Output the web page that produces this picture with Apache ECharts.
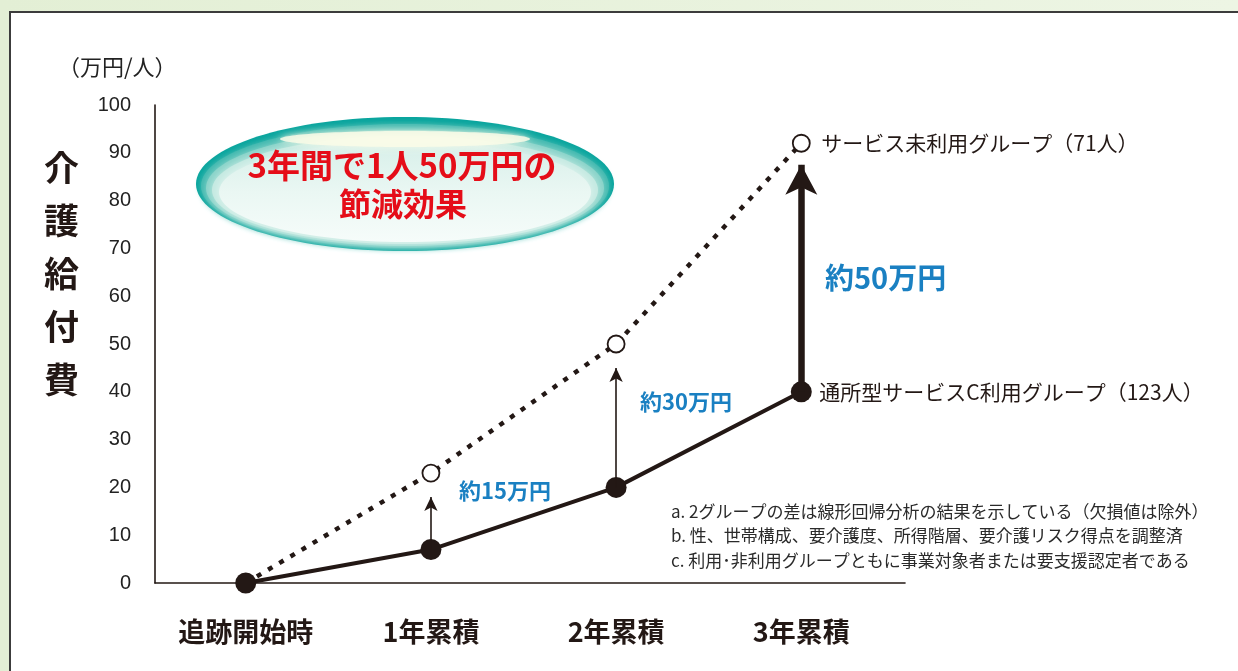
<!DOCTYPE html>
<html><head><meta charset="utf-8">
<script src="https://cdn.jsdelivr.net/npm/echarts@6/dist/echarts.min.js"></script>
<style>html,body{margin:0;padding:0;}#c{width:1238px;height:671px;}</style>
</head><body><div id="c"></div>
<script>
const categories = ['追跡開始時', '1年累積', '2年累積', '3年累積'];
const nonUserValues = [0, 23, 50, 92];
const userValues = [0, 7, 20, 40];
const nonUserName = 'サービス未利用グループ（71人）';
const userName = '通所型サービスC利用グループ（123人）';
const yTicks = [0, 10, 20, 30, 40, 50, 60, 70, 80, 90, 100];
// arrows: [category index, from value, to value]
const arrows = [[1, 7, 18], [2, 20, 45], [3, 40, 87.5]];
const arrowLabels = ['約15万円', '約30万円', '約50万円'];
const notes = [
  'a. 2グループの差は線形回帰分析の結果を示している（欠損値は除外）',
  'b. 性、世帯構成、要介護度、所得階層、要介護リスク得点を調整済',
  'c. 利用･非利用グループともに事業対象者または要支援認定者である'
];
const JP = '"Noto Sans CJK JP", "Noto Sans", sans-serif';
const INK = '#231815';
const BLUE = '#1a80c2';

const chart = echarts.init(document.getElementById('c'));
const arrowLine = (a, width, size) => ({
  type: 'line', data: [], silent: true,
  markLine: {
    silent: true, symbol: ['none', 'arrow'], symbolSize: size, animation: false,
    lineStyle: { color: INK, width: width, type: 'solid' },
    itemStyle: { color: INK },
    label: { show: false },
    data: [[{ coord: [a[0], a[1]] }, { coord: [a[0], a[2]] }]]
  }
});

const ell = (rx, ry, cy, fill, z, blur) => ({
  type: 'ellipse', z: z, shape: { cx: 405, cy: cy, rx: rx, ry: ry },
  style: { fill: fill, shadowBlur: blur || 0, shadowColor: fill }
});

chart.setOption({
  animation: false,
  backgroundColor: {
    type: 'linear', x: 0, y: 0, x2: 1, y2: 0,
    colorStops: [{ offset: 0, color: '#e3efd5' }, { offset: 1, color: '#edf5e4' }]
  },
  graphic: [
    { type: 'rect', z: -10, shape: { x: 10, y: 12, width: 1240, height: 680 },
      style: { fill: '#ffffff', stroke: '#3c3c3c', lineWidth: 2 } },
    ell(209, 67, 184, '#0aa59e', 1),
    ell(204, 62, 186, '#3fb8af', 2, 6),
    ell(199, 58, 188, '#86d2c8', 3, 8),
    ell(193, 54, 190, '#c3e9e1', 4, 10),
    { type: 'ellipse', z: 5, shape: { cx: 405, cy: 192, rx: 186, ry: 50 },
      style: { fill: { type: 'linear', x: 0, y: 0, x2: 0, y2: 1,
        colorStops: [{ offset: 0, color: '#d6efe9' }, { offset: 0.5, color: '#eaf7f3' }, { offset: 1, color: '#f6fcfa' }] },
        shadowBlur: 10, shadowColor: '#e6f5f1' } },
    { type: 'ellipse', z: 6, shape: { cx: 405, cy: 139, rx: 125, ry: 8 },
      style: { fill: 'rgba(250,252,232,0.85)', shadowBlur: 8, shadowColor: 'rgba(250,252,232,0.9)' } },
    { type: 'text', z: 7, x: 402, y: 149,
      style: { text: '3年間で1人50万円の', fontSize: 33, fontWeight: 'bold', fontFamily: JP, fill: '#e50d18', textAlign: 'center' } },
    { type: 'text', z: 7, x: 403, y: 188,
      style: { text: '節減効果', fontSize: 32, fontWeight: 'bold', fontFamily: JP, fill: '#e50d18', textAlign: 'center' } },
    { type: 'text', left: 58, top: 56,
      style: { text: '（万円/人）', fontSize: 22, fontFamily: JP, fill: '#222' } },
    { type: 'text', left: 44, top: 141,
      style: { text: '介\n護\n給\n付\n費', fontSize: 35, lineHeight: 53, fontWeight: 'bold', fontFamily: JP, fill: '#231815' } },
    { type: 'text', left: 459, top: 480,
      style: { text: arrowLabels[0], fontSize: 22, fontWeight: 'bold', fontFamily: JP, fill: BLUE } },
    { type: 'text', left: 640, top: 391,
      style: { text: arrowLabels[1], fontSize: 22, fontWeight: 'bold', fontFamily: JP, fill: BLUE } },
    { type: 'text', left: 825, top: 263,
      style: { text: arrowLabels[2], fontSize: 29, fontWeight: 'bold', fontFamily: JP, fill: BLUE } },
    { type: 'text', left: 671, top: 499,
      style: { text: notes.join('\n'), fontSize: 17, lineHeight: 24.5, fontFamily: JP, fill: '#2a2a2a' } }
  ],
  grid: { left: 155, right: 333, top: 105, bottom: 88, containLabel: false },
  xAxis: {
    type: 'value', min: -0.49, max: 3.56,
    axisLine: { show: true, onZero: false, lineStyle: { color: INK, width: 1.6 } },
    axisTick: { show: false }, splitLine: { show: false },
    axisLabel: {
      customValues: [0, 1, 2, 3], margin: 35,
      formatter: v => categories[Math.round(v)] || '',
      fontSize: 27, fontWeight: 'bold', fontFamily: JP, color: '#231815'
    }
  },
  yAxis: {
    type: 'value', min: 0, max: 100, interval: 10,
    axisLine: { show: true, onZero: false, lineStyle: { color: INK, width: 1.6 } },
    axisTick: { show: false }, splitLine: { show: false },
    axisLabel: { margin: 24, fontSize: 20, fontFamily: '"Liberation Sans", Arial, sans-serif', color: '#222',
      formatter: v => yTicks.includes(v) ? String(v) : '' }
  },
  series: [
    arrowLine(arrows[0], 1.6, [10, 14]),
    arrowLine(arrows[1], 1.6, [10, 14]),
    arrowLine(arrows[2], 6.5, [24, 30]),
    {
      name: nonUserName, type: 'line', z: 3,
      data: nonUserValues.map((v, i) => [i, v]),
      symbol: 'circle', symbolSize: 17, showAllSymbol: true,
      lineStyle: { color: INK, width: 4.5, type: [5, 8], cap: 'butt' },
      itemStyle: { color: '#ffffff', borderColor: INK, borderWidth: 1.8 },
      endLabel: { show: true, formatter: nonUserName, distance: 20, fontSize: 21, fontFamily: JP, color: '#231815' }
    },
    {
      name: userName, type: 'line', z: 4,
      data: userValues.map((v, i) => [i, v]),
      symbol: 'circle', symbolSize: 21, showAllSymbol: true,
      lineStyle: { color: INK, width: 4 },
      itemStyle: { color: INK, borderWidth: 0 },
      endLabel: { show: true, formatter: userName, distance: 18, fontSize: 21, fontFamily: JP, color: '#231815' }
    }
  ]
});
</script></body></html>
